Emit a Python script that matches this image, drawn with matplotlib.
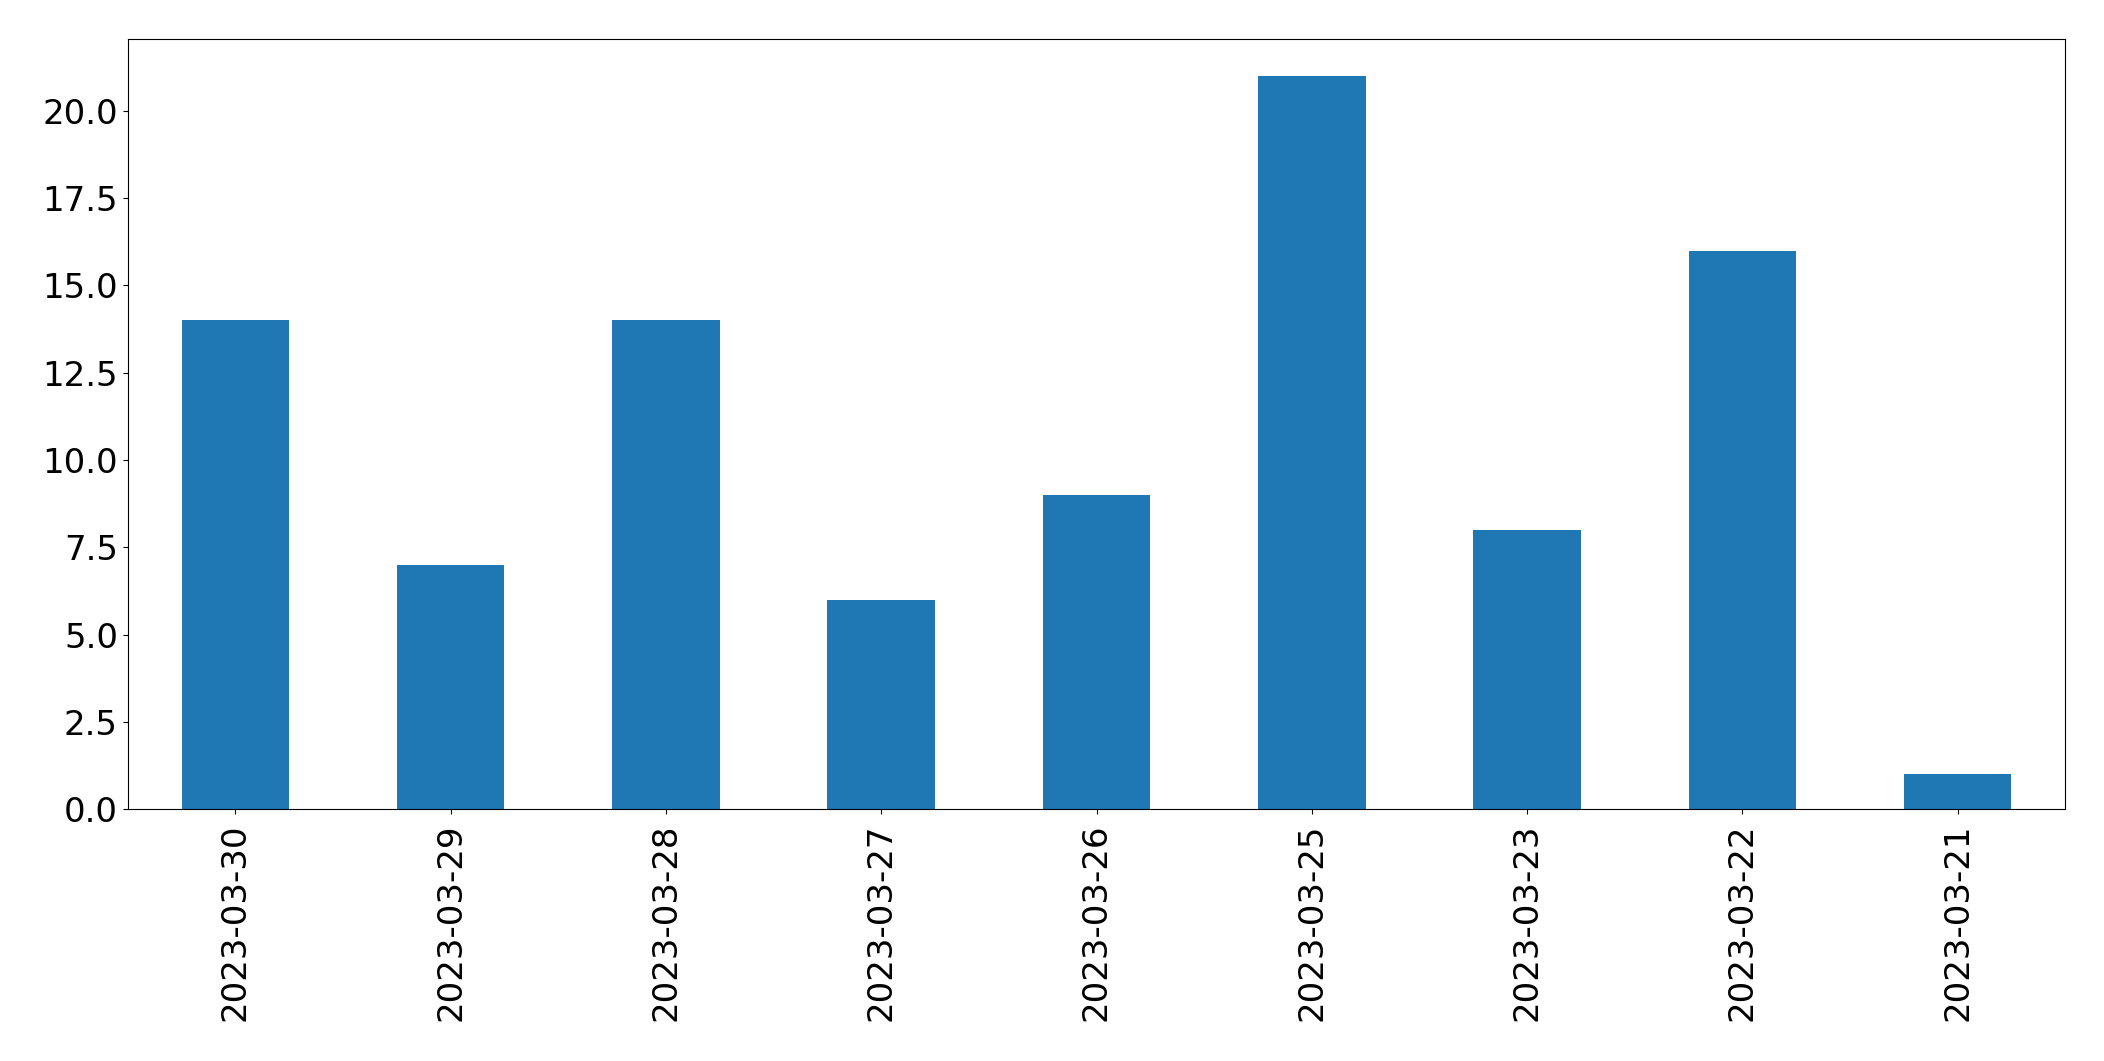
import matplotlib
matplotlib.use("Agg")
import matplotlib.pyplot as plt
import numpy as np

dates = ["2023-03-30", "2023-03-29", "2023-03-28", "2023-03-27", "2023-03-26",
         "2023-03-25", "2023-03-23", "2023-03-22", "2023-03-21"]
counts = [14, 7, 14, 6, 9, 21, 8, 16, 1]
yticks = [0.0, 2.5, 5.0, 7.5, 10.0, 12.5, 15.0, 17.5, 20.0]

W, H = 2104, 1061
fig = plt.figure(figsize=(W / 100, H / 100), dpi=100)
ax = fig.add_axes([127.7 / W, 1 - 809.3 / H, (2065.3 - 127.7) / W, (809.3 - 39.3) / H])

x = np.arange(len(dates))
ax.bar(x, counts, width=0.5, color="#1f77b4")
ax.set_xlim(-0.5, len(dates) - 0.5)
ax.set_ylim(0, max(counts) * 1.05)
ax.set_xticks(x)
ax.set_xticklabels(dates, rotation=90, fontsize=24.5)
ax.set_yticks(yticks)
ax.set_yticklabels([f"{v:.1f}" for v in yticks], fontsize=24.5)
ax.tick_params(axis="x", pad=7)

fig.savefig("out.png", dpi=100)
